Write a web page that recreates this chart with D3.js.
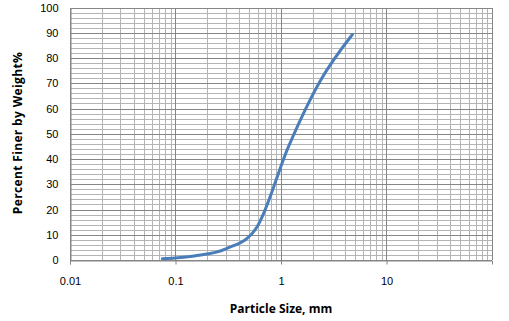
<!DOCTYPE html>
<html>
<head>
<meta charset="utf-8">
<script src="https://cdn.jsdelivr.net/npm/d3@7"></script>
<style>
  body { margin: 0; background: #fff; }
  svg { display: block; font-family: "Open Sans", "DejaVu Sans", sans-serif; }
</style>
</head>
<body>
<div id="chart"></div>
<script>
// Grain size distribution (sieve sizes, mm / percent passing)
const sizes   = [0.075, 0.15, 0.3, 0.6, 1.18, 2.36, 4.75];
const finer   = [0.5, 1.6, 4.4, 13.5, 45, 71, 89.3];
const xTicks  = [0.01, 0.1, 1, 10];
const yTicks  = [0, 10, 20, 30, 40, 50, 60, 70, 80, 90, 100];

const W = 509, H = 321;
const margin = {top: 7.5, right: 17, bottom: 61, left: 70};

const svg = d3.select('#chart').append('svg')
  .attr('width', W)
  .attr('height', H);

const x = d3.scaleLog().domain([0.01, 100]).range([margin.left, W - margin.right]);
const y = d3.scaleLinear().domain([0, 100]).range([H - margin.bottom, margin.top]);

// minor grid
const minorX = [];
[0.01, 0.1, 1, 10].forEach(d => { for (let k = 2; k <= 9; k++) minorX.push(d * k); });
const minorY = d3.range(0, 101, 2).filter(v => v % 10 !== 0);

const grid = svg.append('g').attr('shape-rendering', 'crispEdges');
grid.selectAll('line.mx').data(minorX).join('line')
  .attr('x1', d => Math.round(x(d)) + 0.5).attr('x2', d => Math.round(x(d)) + 0.5)
  .attr('y1', y(0)).attr('y2', y(100))
  .attr('stroke', '#b4b4b4');
grid.selectAll('line.my').data(minorY).join('line')
  .attr('y1', d => Math.round(y(d)) + 0.5).attr('y2', d => Math.round(y(d)) + 0.5)
  .attr('x1', x(0.01)).attr('x2', x(100))
  .attr('stroke', '#b4b4b4');

// major grid
grid.selectAll('line.Mx').data(xTicks.concat([100])).join('line')
  .attr('x1', d => Math.round(x(d)) + 0.5).attr('x2', d => Math.round(x(d)) + 0.5)
  .attr('y1', y(100)).attr('y2', y(0))
  .attr('stroke', '#868686');
grid.selectAll('line.My').data(yTicks).join('line')
  .attr('y1', d => Math.round(y(d)) + 0.5).attr('y2', d => Math.round(y(d)) + 0.5)
  .attr('x1', x(0.01)).attr('x2', x(100))
  .attr('stroke', '#868686');

// x axis
const xAxis = svg.append('g')
  .attr('transform', `translate(0,${Math.round(y(0)) + 0.5})`)
  .call(d3.axisBottom(x).tickValues(xTicks).tickFormat(d => String(d)).tickSize(4).tickPadding(13))
  .call(g => g.select('.domain').attr('stroke', '#868686'));
xAxis.selectAll('.tick line').attr('stroke', '#868686');
xAxis.selectAll('text').attr('font-size', 11).attr('fill', '#000');

// y axis
const yAxis = svg.append('g')
  .attr('transform', `translate(${Math.round(x(0.01)) + 0.5},0)`)
  .call(d3.axisLeft(y).tickValues(yTicks).tickSize(0).tickPadding(12))
  .call(g => g.select('.domain').attr('stroke', '#868686'));
yAxis.selectAll('text').attr('font-size', 11).attr('fill', '#000');

// smoothed curve like a spreadsheet "smooth line"
const line = d3.line()
  .x((d, i) => x(sizes[i]))
  .y(d => y(d))
  .curve(d3.curveCardinal.tension(0));

svg.append('path')
  .datum(finer)
  .attr('d', line)
  .attr('fill', 'none')
  .attr('stroke', '#4a7ebb')
  .attr('stroke-width', 3)
  .attr('stroke-linecap', 'round');

// titles
svg.append('text')
  .attr('x', 281).attr('y', 313)
  .attr('text-anchor', 'middle')
  .attr('font-size', 12).attr('font-weight', 'bold')
  .text('Particle Size, mm');

svg.append('text')
  .attr('transform', 'translate(22,133) rotate(-90)')
  .attr('text-anchor', 'middle')
  .attr('font-size', 12).attr('font-weight', 'bold')
  .attr('letter-spacing', 0.35)
  .text('Percent Finer by Weight%');
</script>
</body>
</html>
